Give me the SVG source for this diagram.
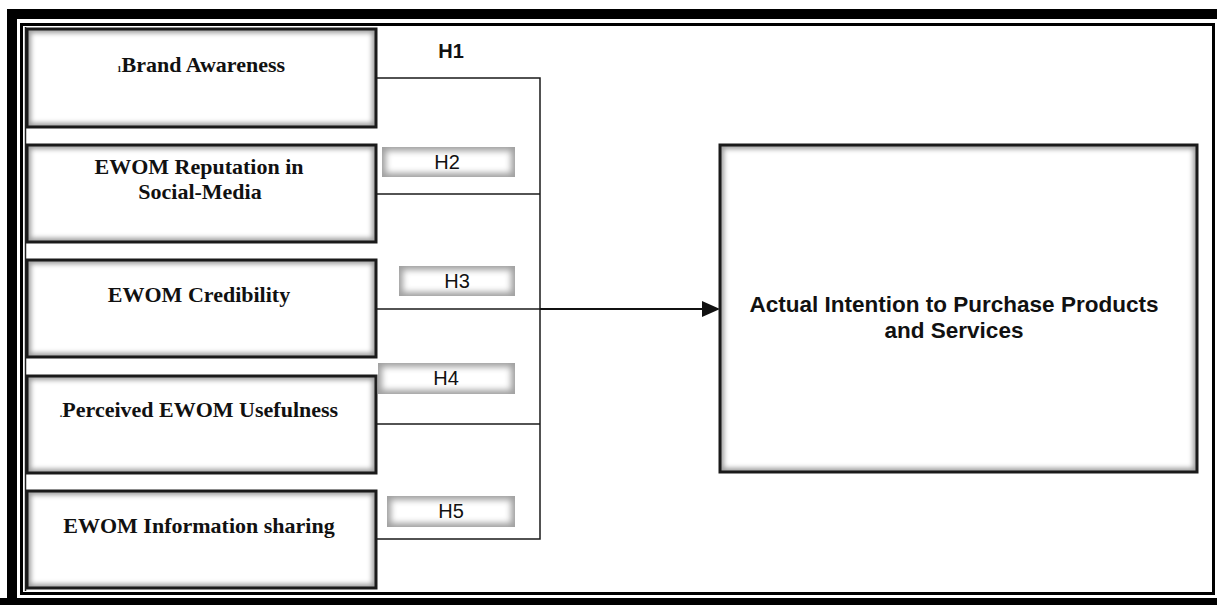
<svg xmlns="http://www.w3.org/2000/svg" width="1217" height="605" viewBox="0 0 1217 605">
<style>
.node-bg{fill:#9c9c9c}
.node-in{fill:#fff;filter:url(#soft)}
.node-border{fill:none;stroke:#1a1a1a;stroke-width:3}
.lbl-bg{fill:#a0a0a0}
.lbl-in{fill:#fff;filter:url(#softH)}
.ntext{font-family:"Liberation Serif","Times New Roman",serif;font-weight:bold;font-size:22px;fill:#111;text-anchor:middle}
.htext{font-family:"Liberation Sans",Arial,sans-serif;font-size:20px;fill:#111;text-anchor:middle}
.mtext{font-family:"Liberation Sans",Arial,sans-serif;font-weight:bold;font-size:22.5px;fill:#111;text-anchor:middle}
.conn{fill:none;stroke:#1a1a1a;stroke-width:1.5}
</style>
<defs>
<filter id="soft" x="-5%" y="-10%" width="110%" height="120%">
<feGaussianBlur stdDeviation="2.5"/>
</filter>
<filter id="softH" x="-10%" y="-40%" width="120%" height="180%">
<feGaussianBlur stdDeviation="3"/>
</filter>
</defs>
<rect width="1217" height="605" fill="#fff"/>
<g id="frame">
<rect x="7" y="9" width="1210" height="10" fill="#000"/>
<rect x="7" y="9" width="10" height="596" fill="#000"/>
<rect x="0" y="598" width="1217" height="7" fill="#000"/>
<rect x="21.5" y="24.5" width="1192" height="569" fill="none" stroke="#000" stroke-width="3"/>
<line x1="25.5" y1="27" x2="25.5" y2="591" stroke="#222" stroke-width="1.5"/>
</g>
<g id="connectors">
<polyline class="conn" points="376,78 540,78 540,539 376,539"/>
<line class="conn" x1="376" y1="194" x2="540" y2="194"/>
<line class="conn" x1="376" y1="424" x2="540" y2="424"/>
<line class="conn" x1="376" y1="309" x2="540" y2="309"/>
<line x1="540" y1="309" x2="705" y2="309" stroke="#111" stroke-width="2.2"/>
<polygon points="720,309 702,301 702,317" fill="#111"/>
</g>
<g id="n1">
<rect class="node-bg" x="27" y="29" width="349" height="98"/>
<rect class="node-in" x="31" y="33" width="341" height="90"/>
<rect class="node-border" x="27" y="29" width="349" height="98"/>
<text class="ntext" x="201" y="72"><tspan font-size="9">1</tspan>Brand Awareness</text>
</g>
<g id="n2">
<rect class="node-bg" x="27" y="145" width="349" height="97"/>
<rect class="node-in" x="31" y="149" width="341" height="89"/>
<rect class="node-border" x="27" y="145" width="349" height="97"/>
<text class="ntext" x="199" y="174">EWOM Reputation in</text>
<text class="ntext" x="200" y="199">Social-Media</text>
</g>
<g id="n3">
<rect class="node-bg" x="27" y="260" width="349" height="97"/>
<rect class="node-in" x="31" y="264" width="341" height="89"/>
<rect class="node-border" x="27" y="260" width="349" height="97"/>
<text class="ntext" x="199" y="302">EWOM Credibility</text>
</g>
<g id="n4">
<rect class="node-bg" x="27" y="376" width="349" height="97"/>
<rect class="node-in" x="31" y="380" width="341" height="89"/>
<rect class="node-border" x="27" y="376" width="349" height="97"/>
<text class="ntext" x="199" y="417"><tspan font-size="10">.</tspan>Perceived EWOM Usefulness</text>
</g>
<g id="n5">
<rect class="node-bg" x="27" y="491" width="349" height="97"/>
<rect class="node-in" x="31" y="495" width="341" height="89"/>
<rect class="node-border" x="27" y="491" width="349" height="97"/>
<text class="ntext" x="199" y="533">EWOM Information sharing</text>
</g>
<g id="target">
<rect class="node-bg" x="720" y="145" width="477" height="327"/>
<rect class="node-in" x="724" y="149" width="469" height="319"/>
<rect class="node-border" x="720" y="145" width="477" height="327"/>
<text class="mtext" x="954" y="312">Actual Intention to Purchase Products</text>
<text class="mtext" x="954" y="338">and Services</text>
</g>
<g id="h1">
<text class="htext" x="451" y="58" font-weight="bold">H1</text>
</g>
<g id="h2">
<rect class="lbl-bg" x="382" y="147" width="133" height="30"/>
<rect class="lbl-in" x="386" y="151" width="125" height="22"/>
<text class="htext" x="447" y="169">H2</text>
</g>
<g id="h3">
<rect class="lbl-bg" x="399" y="266" width="116" height="30"/>
<rect class="lbl-in" x="403" y="270" width="108" height="22"/>
<text class="htext" x="457" y="288">H3</text>
</g>
<g id="h4">
<rect class="lbl-bg" x="378" y="363" width="137" height="31"/>
<rect class="lbl-in" x="382" y="367" width="129" height="23"/>
<text class="htext" x="446" y="385">H4</text>
</g>
<g id="h5">
<rect class="lbl-bg" x="387" y="496" width="128" height="31"/>
<rect class="lbl-in" x="391" y="500" width="120" height="23"/>
<text class="htext" x="451" y="518">H5</text>
</g>
</svg>
